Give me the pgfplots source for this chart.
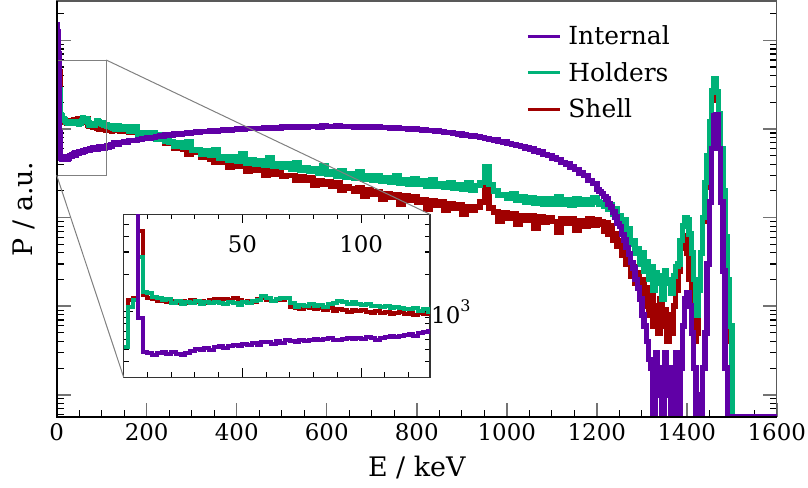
\documentclass[border=0pt]{standalone}
\usepackage{pgfplots}
\pgfplotsset{compat=1.18}
\usepackage{pgfplotstable}
\usepackage{fontspec}
\setmainfont{DejaVu Serif}
\definecolor{cint}{RGB}{96,0,166}
\definecolor{chol}{RGB}{0,178,120}
\definecolor{cshe}{RGB}{160,0,0}

\pgfplotstableread{
x y
0 15000
2 12500
4 7000
6 900
8 480
10 470
12 455
14 470
16 480
18 462
20 475
22 458
24 450
26 470
28 490
30 505
32 492
34 515
36 500
38 520
40 535
42 510
44 530
46 545
48 538
50 555
52 540
54 560
56 548
58 570
60 575
62 558
64 580
66 568
68 590
70 585
72 572
74 595
76 588
78 600
80 610
82 594
84 605
86 615
88 600
90 594
92 610
94 622
96 604
98 615
100 610
102 626
104 614
106 600
108 620
110 632
112 640
114 624
116 646
118 652
120 660
122 645
124 672
126 690
128 702
130 680
140 705
150 712
160 738
170 744
180 763
190 778
200 794
210 803
220 822
230 828
240 852
250 858
260 874
270 878
280 893
290 902
300 918
310 922
320 934
330 942
340 953
350 951
360 966
370 968
380 978
390 982
400 996
410 998
420 1008
430 1006
440 1018
450 1016
460 1032
470 1022
480 1038
490 1028
500 1046
510 1052
520 1038
530 1057
540 1062
550 1048
560 1066
570 1072
580 1058
590 1078
600 1068
610 1064
620 1077
630 1068
640 1063
650 1072
660 1058
670 1066
680 1052
690 1061
700 1048
710 1046
720 1038
730 1036
740 1027
750 1022
760 1013
770 1011
780 998
790 996
800 983
810 977
820 962
830 957
840 943
850 932
860 918
870 907
880 888
890 877
900 858
910 847
920 828
930 817
940 798
950 782
960 763
970 747
980 723
990 712
1000 688
1010 672
1020 648
1030 632
1040 608
1050 592
1060 563
1070 547
1080 518
1090 502
1100 473
1110 452
1120 418
1130 402
1140 372
1150 347
1160 318
1170 297
1180 263
1190 242
1200 208
1205 196
1210 186
1215 172
1220 162
1225 143
1230 132
1235 116
1240 102
1245 86
1250 79
1255 64
1260 56
1265 46
1270 39
1275 31
1280 27
1285 20
1290 16
1295 12
1300 8
1305 6
1310 4
1315 2.5
1320 2
1325 0.566
1330 3
1335 1
1340 2
1345 0.566
1350 3
1355 1
1360 2
1365 0.566
1370 1
1375 3
1380 0.566
1385 2
1390 6
1395 12
1400 14
1405 10
1410 5
1415 2
1420 0.566
1425 1
1430 0.566
1435 2
1440 5
1445 30
1450 150
1455 600
1460 1400
1465 1450
1470 600
1475 150
1480 25
1485 2
1490 0.566
1600 0.566
}\tint

\pgfplotstableread{
x y
0 520
2 1100
4 1240
6 2750
8 1450
10 1400
12 1320
14 1290
16 1250
18 1270
20 1180
22 1220
24 1160
26 1200
28 1170
30 1210
32 1150
34 1190
36 1170
38 1200
40 1180
42 1160
44 1200
46 1170
48 1140
50 1190
52 1170
54 1210
56 1250
58 1330
60 1280
62 1210
64 1260
66 1300
68 1280
70 1180
72 1100
74 1130
76 1110
78 1150
80 1120
82 1140
84 1100
86 1150
88 1180
90 1230
92 1200
94 1160
96 1190
98 1150
100 1140
102 1160
104 1110
106 1120
108 1090
110 1110
112 1080
114 1100
116 1070
118 1060
120 1050
122 1070
124 1020
126 1050
128 990
130 1100
140 980
150 1050
160 950
170 1050
180 860
190 905
200 855
210 895
220 770
230 870
240 730
250 715
260 640
270 700
280 615
290 720
300 570
310 580
320 525
330 570
340 505
350 590
360 470
370 490
380 445
390 490
400 435
410 520
420 415
430 455
440 398
450 440
460 390
470 470
480 375
490 400
500 372
510 405
520 350
530 420
540 345
550 365
560 330
570 360
580 318
590 385
600 305
610 330
620 296
630 335
640 285
650 315
660 280
670 330
680 268
690 295
700 265
710 300
720 255
730 285
740 250
750 300
760 245
770 265
780 240
790 275
800 236
810 262
820 228
830 270
840 224
850 242
860 220
870 250
880 214
890 232
900 210
910 245
920 205
930 230
940 250
950 370
960 235
970 200
980 178
990 182
1000 165
1010 185
1020 156
1030 170
1040 150
1050 168
1060 146
1070 165
1080 143
1090 162
1100 140
1110 170
1120 142
1130 158
1140 138
1150 165
1160 140
1170 160
1180 142
1190 166
1200 150
1205 140
1210 148
1215 135
1220 150
1225 125
1230 140
1235 110
1240 125
1245 100
1250 105
1255 90
1260 95
1265 65
1270 75
1275 50
1280 55
1285 40
1290 45
1295 30
1300 40
1305 25
1310 32
1315 20
1320 28
1325 15
1330 24
1335 18
1340 22
1345 12
1350 25
1355 18
1360 20
1365 14
1370 22
1375 28
1380 30
1385 55
1390 80
1395 100
1400 95
1405 65
1410 40
1415 20
1420 8
1425 15
1430 40
1435 100
1440 250
1445 500
1450 1200
1455 2700
1460 3700
1465 2600
1470 1500
1475 600
1480 200
1485 60
1490 20
1495 6
1500 0.566
1600 0.566
}\thol

\pgfplotstableread{
x y
0 520
2 1240
4 1300
6 4400
8 1350
10 1300
12 1260
14 1220
16 1250
18 1200
20 1230
22 1170
24 1220
26 1180
28 1250
30 1200
32 1230
34 1180
36 1240
38 1260
40 1220
42 1270
44 1250
46 1290
48 1240
50 1200
52 1230
54 1190
56 1260
58 1300
60 1250
62 1220
64 1270
66 1240
68 1290
70 1100
72 1080
74 1060
76 1100
78 1070
80 1050
82 1080
84 1040
86 1070
88 1010
90 1060
92 1030
94 1000
96 1040
98 1010
100 1030
102 1000
104 980
106 1010
108 970
110 990
112 960
114 980
116 990
118 960
120 975
122 950
124 970
126 960
128 975
130 1000
140 950
150 1030
160 930
170 940
180 860
190 880
200 780
210 840
220 760
230 770
240 690
250 700
260 610
270 650
280 590
290 520
300 540
310 545
320 480
330 500
340 455
350 420
360 455
370 420
380 370
390 410
400 375
410 395
420 330
430 375
440 340
450 355
460 300
470 345
480 305
490 325
500 290
510 300
520 300
530 265
540 290
550 262
560 280
570 230
580 262
590 240
600 255
610 228
620 245
630 205
640 222
650 212
660 200
670 215
680 175
690 205
700 182
710 195
720 160
730 188
740 168
750 180
760 140
770 175
780 158
790 170
800 148
810 160
820 125
830 156
840 138
850 150
860 120
870 145
880 128
890 140
900 110
910 134
920 120
930 132
940 150
950 225
960 128
970 115
980 92
990 112
1000 98
1010 110
1020 85
1030 106
1040 94
1050 104
1060 75
1070 101
1080 89
1090 99
1100 90
1110 68
1120 96
1130 86
1140 97
1150 72
1160 93
1170 80
1180 96
1190 82
1200 95
1205 85
1210 90
1215 70
1220 88
1225 65
1230 80
1235 55
1240 65
1245 48
1250 55
1255 38
1260 45
1265 30
1270 35
1275 22
1280 28
1285 18
1290 24
1295 14
1300 20
1305 10
1310 16
1315 8
1320 14
1325 6
1330 10
1335 5
1340 12
1345 6
1350 9
1355 4
1360 8
1365 5
1370 10
1375 15
1380 25
1385 45
1390 60
1395 62
1400 40
1405 20
1410 8
1415 4
1420 5
1425 18
1430 40
1435 90
1440 220
1445 480
1450 1100
1455 2200
1460 2850
1465 2100
1470 1100
1475 450
1480 150
1485 45
1490 15
1495 4
1500 0.566
1600 0.566
}\tshe

\begin{document}
\begin{tikzpicture}
\path[use as bounding box] (-56.7bp,-71.3bp) rectangle (751.3bp,416.7bp);
\begin{axis}[
  name=main,
  at={(0,0)}, anchor=south west,
  width=720.1bp, height=415.7bp, scale only axis,
  xmin=0, xmax=1600, ymode=log, ymin=0.566, ymax=27800,
  xtick={0,200,400,600,800,1000,1200,1400,1600},
  xticklabels={0,200,400,600,800,1000,1200,1400,1600},
  minor xtick={50,100,150,250,300,350,450,500,550,650,700,750,850,900,950,1050,1100,1150,1250,1300,1350,1450,1500,1550},
  ytick={1,10,100,1000,10000},
  yticklabels={,,,,},
  minor ytick={0.6,0.7,0.8,0.9,2,3,4,5,6,7,8,9,20,30,40,50,60,70,80,90,200,300,400,500,600,700,800,900,2000,3000,4000,5000,6000,7000,8000,9000,20000},
  xtick pos=lower, ytick pos=both,
  tick align=inside,
  major tick length=14bp, minor tick length=7bp,
  major tick style={draw=black!55, line width=1.5bp},
  minor tick style={draw=black, line width=1.2bp},
  axis line style={draw=black!65, line width=1.3bp},
  /pgf/number format/assume math mode=true,
  xticklabel style={font=\fontsize{23}{23}\selectfont, anchor=north, inner sep=0pt, yshift=-7bp},
  legend image code/.code={\draw[#1] (0bp,0bp) -- (32bp,0bp);},
  legend style={at={(rel axis cs:0.652,0.95)}, anchor=north west, draw=none, fill=none,
    font=\fontsize{25}{30}\selectfont, row sep=8bp, inner sep=0pt,
    nodes={inner sep=4bp},
    /tikz/every odd column/.append style={column sep=3bp}},
  legend cell align=left,
]
\addlegendimage{cint, line width=3bp}
\addlegendentry{Internal}
\addlegendimage{chol, line width=3bp}
\addlegendentry{Holders}
\addlegendimage{cshe, line width=3bp}
\addlegendentry{Shell}
\addplot[cshe, line width=5.5bp, const plot, forget plot] table {\tshe};
\addplot[chol, line width=5.5bp, const plot, forget plot] table {\thol};
\addplot[cint, line width=5.5bp, const plot, forget plot] table {\tint};
\draw[black!50, line width=1bp] (axis cs:0,300) rectangle (axis cs:110,6000);
\coordinate (rtr) at (axis cs:110,6000);
\coordinate (rbl) at (axis cs:0,300);
\end{axis}
\draw[black, line width=1.8bp] (main.north west) -- (main.south west) -- (main.south east);
\node[font=\fontsize{27}{27}\selectfont, anchor=base] at ([yshift=-60bp]main.south) {E / keV};
\node[font=\fontsize{27}{27}\selectfont, rotate=90] at ([xshift=-33bp]main.west) {P / a.u.};

\begin{axis}[
  name=inset,
  at={(67bp,39.4bp)}, anchor=south west,
  width=306.3bp, height=163bp, scale only axis,
  xmin=0, xmax=129, ymode=log, ymin=300, ymax=6000,
  axis background/.style={fill=white},
  xtick={50,100}, xticklabels={50,100},
  minor xtick={10,20,30,40,60,70,80,90,110,120},
  xtick pos=both, xticklabel pos=upper,
  ytick={1000}, yticklabels={10\raisebox{0.5em}{\fontsize{16}{16}\selectfont 3}},
  minor ytick={400,500,600,700,800,900,2000,3000,4000,5000},
  ytick pos=both, yticklabel pos=right,
  tick align=inside,
  major tick length=9bp, minor tick length=5bp,
  major tick style={draw=black, line width=1.1bp},
  minor tick style={draw=black, line width=1.1bp},
  axis line style={draw=black!80, line width=1.2bp},
  /pgf/number format/assume math mode=true,
  xticklabel style={font=\fontsize{23}{23}\selectfont, anchor=north, inner sep=0pt, yshift=-21bp},
  yticklabel style={font=\fontsize{23}{23}\selectfont, anchor=west, inner sep=1bp},
]
\addplot[cshe, line width=4bp, const plot] table {\tshe};
\addplot[chol, line width=4bp, const plot] table {\thol};
\addplot[cint, line width=4bp, const plot] table {\tint};
\end{axis}
\draw[black!50, line width=1bp] (rtr) -- (inset.north east);
\draw[black!50, line width=1bp] (rbl) -- (inset.south west);
\end{tikzpicture}
\end{document}
